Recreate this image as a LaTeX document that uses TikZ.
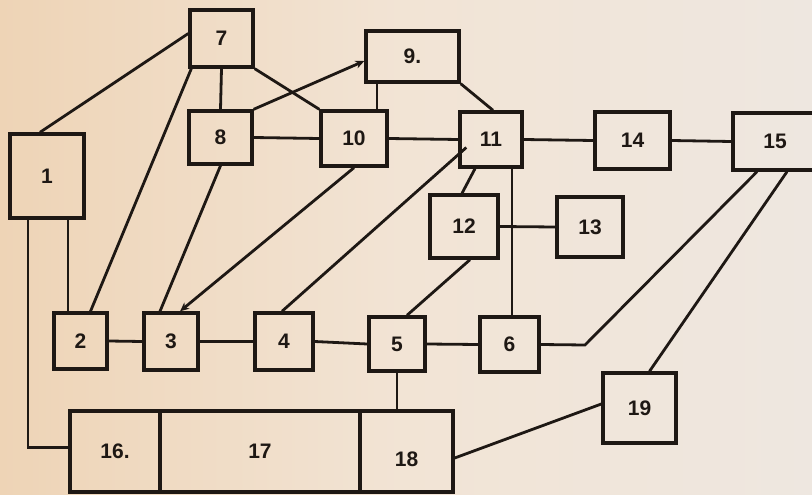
\documentclass[tikz,border=0pt]{standalone}
\usepackage{fontspec}
\setmainfont{Liberation Sans}
\usetikzlibrary{arrows.meta,calc}
\definecolor{ink}{RGB}{30,24,20}
\definecolor{paperL}{RGB}{238,212,182}
\definecolor{paperM}{RGB}{242,228,213}
\definecolor{paperR}{RGB}{238,231,224}
\begin{document}
\begin{tikzpicture}[x=1pt,y=-1pt,
  blk/.style={draw=ink,line width=3.4pt,inner sep=0pt,anchor=center,
    font=\bfseries\fontsize{21}{21}\selectfont,text=ink},
  wire/.style={draw=ink,line width=2.8pt},
  arr/.style={wire,-{Stealth[length=9pt,width=8pt]}}]
\useasboundingbox (0,0) rectangle (812,495);
\shade[left color=paperL,right color=paperR,middle color=paperM] (0,0) rectangle (812,495);
\clip (0,0) rectangle (812,495);

% blocks
\node[blk,minimum width=74pt,minimum height=84pt] (n1) at (47,176) {1};
\node[blk,minimum width=53pt,minimum height=56pt] (n2) at (80.5,341) {2};
\node[blk,minimum width=54pt,minimum height=57pt] (n3) at (171,341.5) {3};
\node[blk,minimum width=58pt,minimum height=57pt] (n4) at (284,341.5) {4};
\node[blk,minimum width=56pt,minimum height=54pt] (n5) at (397,344) {5};
\node[blk,minimum width=59pt,minimum height=55pt] (n6) at (509.5,344.5) {6};
\node[blk,minimum width=63pt,minimum height=57pt] (n7) at (221.5,38.5) {7};
\node[blk,minimum width=63pt,minimum height=53pt] (n8) at (220.5,137.5) {8};
\node[blk,minimum width=93pt,minimum height=51pt] (n9) at (412.5,56.5) {9.};
\node[blk,minimum width=66pt,minimum height=55pt] (n10) at (354,138.5) {10};
\node[blk,minimum width=62pt,minimum height=55pt] (n11) at (491,139.5) {11};
\node[blk,minimum width=68pt,minimum height=63pt] (n12) at (464,226.5) {12};
\node[blk,minimum width=66pt,minimum height=60pt] (n13) at (590,227) {13};
\node[blk,minimum width=75pt,minimum height=57pt] (n14) at (632.5,140.5) {14};
\node[blk,minimum width=84pt,minimum height=57pt] (n15) at (775,141.5) {15};
\node[blk,minimum width=90pt,minimum height=81pt] (n16) at (115,451.5) {16.};
\node[blk,minimum width=200pt,minimum height=81pt] (n17) at (260,451.5) {17};
\node[blk,minimum width=93pt,minimum height=81pt,text height=30pt,text depth=0pt] (n18) at (406.5,451.5) {18};
\node[blk,minimum width=73pt,minimum height=70pt] (n19) at (639.5,408) {19};
\coordinate (bend) at (585,345);

% connections
\draw[wire] ([xshift=-7pt]n1.north) -- ([yshift=5pt]n7.west);
\draw[wire] ([xshift=-19pt]n1.south) |- ([yshift=4pt]n16.west);
\draw[wire] ([xshift=21pt]n1.south) -- ([xshift=21pt]n1.south |- n2.north);
\draw[wire] ([xshift=3pt]n7.south west) -- ([xshift=10pt]n2.north);
\draw[wire] (n7.south) -- (n8.north);
\draw[wire] (n7.south east) -- (n10.north west);
\draw[arr] (n8.north east) -- ([yshift=-4.5pt]n9.west);
\draw[wire] ([xshift=-35.5pt]n9.south) -- ([xshift=-35.5pt]n9.south |- n10.north);
\draw[wire] (n9.south east) -- ([xshift=2pt]n11.north);
\draw[wire] (n8.east) -- (n10.west);
\draw[wire] (n10.east) -- (n11.west);
\draw[wire] (n11.east) -- (n14.west);
\draw[wire] (n14.east) -- (n15.west);
\draw[wire] ([xshift=8pt,yshift=-8pt]n11.west) -- ([xshift=-2pt]n4.north);
\draw[arr] (n10.south) -- ([xshift=9pt]n3.north);
\draw[wire] (n8.south) -- ([xshift=-11pt]n3.north);
\draw[wire] (n2.east) -- (n3.west);
\draw[wire] (n3.east) -- (n4.west);
\draw[wire] (n4.east) -- (n5.west);
\draw[wire] (n5.east) -- (n6.west);
\draw[wire] ([xshift=-16pt]n11.south) -- ([xshift=-2pt]n12.north);
\draw[wire] ([xshift=21pt]n11.south) -- ([xshift=21pt]n11.south |- n6.north);
\draw[wire] (n12.east) -- (n13.west);
\draw[wire] ([xshift=6pt]n12.south) -- ([xshift=10pt]n5.north);
\draw[wire] ([xshift=-18pt]n15.south) -- (bend) -- (n6.east);
\draw[wire] ([xshift=12pt]n15.south) -- ([xshift=10pt]n19.north);
\draw[wire] ([yshift=4pt]n19.west) -- ([yshift=-6.5pt]n18.east);
\draw[wire] (n5.south) -- (n5.south |- n18.north);
\end{tikzpicture}
\end{document}
